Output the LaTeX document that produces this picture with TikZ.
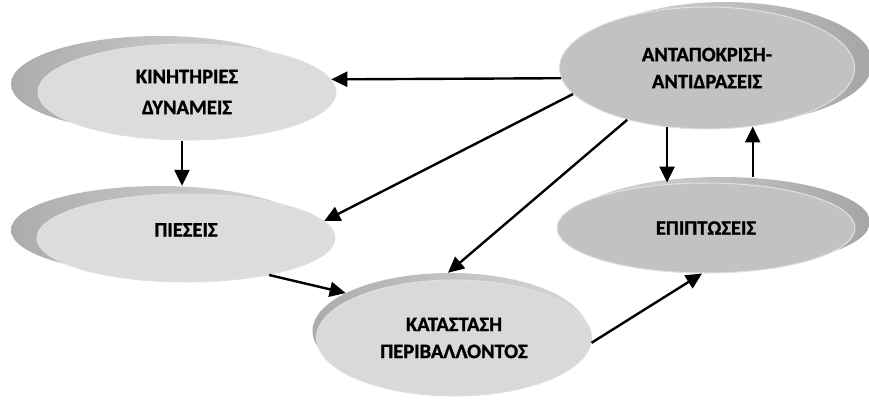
\documentclass[tikz,border=0pt]{standalone}
\usepackage{fontspec}
\setmainfont{Carlito}
\newfontfamily\gruesa{Carlito}[FakeBold=1.2]
\usetikzlibrary{shapes.geometric,arrows.meta}
\definecolor{frenteclaro}{RGB}{220,220,220}
\definecolor{frentemedio}{RGB}{217,217,217}
\definecolor{frenteoscuro}{RGB}{194,194,194}
\begin{document}
\begin{tikzpicture}[x=1pt,y=-1pt,
    caja/.style={ellipse, inner sep=0pt, draw=white!88!black, line width=1pt,
        font=\fontsize{20.5}{27}\selectfont\gruesa\bfseries, align=center},
    sombraizq/.style={ellipse, inner sep=0pt, left color=gray!65, right color=gray!30},
    sombrader/.style={ellipse, inner sep=0pt, left color=gray!30, right color=gray!70},
    flecha/.style={-{Triangle[length=16pt,width=15pt]}, line width=2.4pt}]
    \useasboundingbox (0,0) rectangle (869,399);

    % Sombras
    \node[sombraizq, minimum width=298pt, minimum height=96pt] (kin-b) at (160,84) {};
    \node[sombraizq, minimum width=298pt, minimum height=88pt] (pie-b) at (160,230) {};
    \node[sombraizq, minimum width=275pt, minimum height=116pt] (kat-b) at (450,331) {};
    \node[sombrader, minimum width=295pt, minimum height=122pt] (ant-b) at (725,63) {};
    \node[sombrader, minimum width=298pt, minimum height=90pt] (epi-b) at (721,222) {};

    % Elipses
    \node[caja, fill=frenteclaro, minimum width=298pt, minimum height=96pt] (kin) at (187,92)
        {ΚΙΝΗΤΗΡΙΕΣ\\[4pt]ΔΥΝΑΜΕΙΣ};
    \node[caja, fill=frenteclaro, minimum width=298pt, minimum height=88pt,
        text height=10pt, text depth=13pt] (pie) at (186,238) {ΠΙΕΣΕΙΣ};
    \node[caja, fill=frentemedio, minimum width=275pt, minimum height=116pt] (kat) at (454,338)
        {ΚΑΤΑΣΤΑΣΗ\\ΠΕΡΙΒΑΛΛΟΝΤΟΣ};
    \node[caja, fill=frenteoscuro, minimum width=295pt, minimum height=122pt] (ant) at (707,68)
        {ΑΝΤΑΠΟΚΡΙΣΗ-\\ΑΝΤΙΔΡΑΣΕΙΣ};
    \node[caja, fill=frenteoscuro, minimum width=298pt, minimum height=90pt] (epi) at (706,228)
        {ΕΠΙΠΤΩΣΕΙΣ};

    % Flechas
    \draw[flecha] (ant.184) -- (kin.5);
    \draw[flecha] ([xshift=-5pt]kin.south) -- ([xshift=-5pt]kin.south |- pie-b.north);
    \draw[flecha] (ant.191) -- (pie.7);
    \draw[flecha] (ant.213) -- (kat-b.92);
    \draw[flecha] (pie.336) -- (kat-b.160);
    \draw[flecha] (kat.358) -- (epi.265);
    \draw[flecha] (ant.236) -- (ant.236 |- epi.north);
    \draw[flecha] (ant.308 |- epi-b.north) -- (ant.308);
\end{tikzpicture}
\end{document}
